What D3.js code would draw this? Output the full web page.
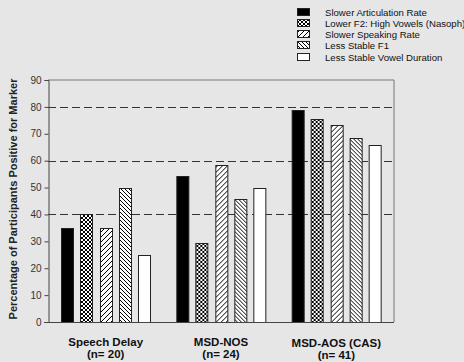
<!doctype html>
<html lang="en">
<head>
  <style>
    body { margin: 0; background: #e6e6e6; }
    svg { display: block; }
    .tick-label { font: 10px Arial, "Liberation Sans", sans-serif; fill: #333; }
    .legend-label { font: 9.6px Arial, "Liberation Sans", sans-serif; fill: #111; }
    .cat-label { font: bold 11.5px Arial, "Liberation Sans", sans-serif; fill: #111; }
    .axis-title { font: bold 11px Arial, "Liberation Sans", sans-serif; fill: #222; }
  </style>
  <script src="https://d3js.org/d3.v7.min.js"></script>
</head>
<body>
  <script>
    const categories = ["Speech Delay", "MSD-NOS", "MSD-AOS (CAS)"];
    const sampleSizes = ["(n= 20)", "(n= 24)", "(n= 41)"];
    const seriesNames = [
      "Slower Articulation Rate",
      "Lower F2: High Vowels (Nasoph)",
      "Slower Speaking Rate",
      "Less Stable F1",
      "Less Stable Vowel Duration"
    ];
    // one array per series, values per category
    const articulation = [35, 54.2, 78.9];
    const lowerF2 = [40, 29.2, 75.6];
    const speakingRate = [35, 58.3, 73.2];
    const stableF1 = [50, 45.8, 68.3];
    const vowelDuration = [25, 50, 65.9];
    const yTicks = [0, 10, 20, 30, 40, 50, 60, 70, 80, 90];
    const gridValues = [40, 60, 80];

    const seriesValues = [articulation, lowerF2, speakingRate, stableF1, vowelDuration];
    const fills = ["#000", "url(#cross)", "url(#fwd)", "url(#back)", "#fff"];

    const W = 464, H = 362;
    const plot = { left: 48, right: 394, top: 80, bottom: 322 };

    const svg = d3.select("body").append("svg")
      .attr("width", W)
      .attr("height", H);

    svg.append("rect").attr("width", W).attr("height", H).attr("fill", "#e6e6e6");

    // hatch patterns
    const defs = svg.append("defs");
    function hatch(id, size, angles) {
      const p = defs.append("pattern")
        .attr("id", id)
        .attr("patternUnits", "userSpaceOnUse")
        .attr("width", size)
        .attr("height", size);
      p.append("rect").attr("width", size).attr("height", size).attr("fill", "#fff");
      angles.forEach(a => {
        if (a === "/") {
          p.append("path").attr("d", `M0,${size} L${size},0 M-1,1 L1,-1 M${size - 1},${size + 1} L${size + 1},${size - 1}`)
            .attr("stroke", "#000").attr("stroke-width", 1);
        } else {
          p.append("path").attr("d", `M0,0 L${size},${size} M-1,${size - 1} L1,${size + 1} M${size - 1},-1 L${size + 1},1`)
            .attr("stroke", "#000").attr("stroke-width", 1);
        }
      });
    }
    hatch("cross", 4, ["/", "\\"]);
    hatch("fwd", 5, ["/"]);
    hatch("back", 4, ["\\"]);

    const x0 = d3.scaleBand()
      .domain(categories)
      .range([plot.left, plot.right]);

    const x1 = d3.scaleBand()
      .domain(seriesNames)
      .range([13, x0.bandwidth() - 13])
      .paddingInner(0.37);

    const y = d3.scaleLinear()
      .domain([0, 90])
      .range([plot.bottom, plot.top]);

    // frame top and right
    svg.append("path")
      .attr("d", `M${plot.left},${plot.top}H${plot.right}V${plot.bottom}`)
      .attr("fill", "none")
      .attr("stroke", "#777")
      .attr("stroke-width", 1);

    // dashed reference lines
    svg.append("g").selectAll("line")
      .data(gridValues)
      .join("line")
      .attr("x1", plot.left)
      .attr("x2", plot.right)
      .attr("y1", d => Math.round(y(d)) + 0.5)
      .attr("y2", d => Math.round(y(d)) + 0.5)
      .attr("stroke", "#333")
      .attr("stroke-width", 1)
      .attr("stroke-dasharray", "8,4");

    // bars
    categories.forEach((cat, ci) => {
      const g = svg.append("g").attr("transform", `translate(${x0(cat)},0)`);
      g.selectAll("rect")
        .data(seriesNames.map((s, si) => ({ s, si, v: seriesValues[si][ci] })))
        .join("rect")
        .attr("x", d => Math.round(x1(d.s)) + 0.5)
        .attr("y", d => Math.round(y(d.v)) + 0.5)
        .attr("width", Math.round(x1.bandwidth()))
        .attr("height", d => plot.bottom - Math.round(y(d.v)))
        .attr("fill", d => fills[d.si])
        .attr("stroke", "#222")
        .attr("stroke-width", 1);
    });

    // y axis
    const yAxis = svg.append("g")
      .attr("transform", `translate(${plot.left + 0.5},0)`)
      .call(d3.axisLeft(y).tickValues(yTicks).tickSize(4).tickPadding(3));
    yAxis.select(".domain").attr("stroke", "#444");
    yAxis.selectAll(".tick line").attr("stroke", "#444");
    yAxis.selectAll(".tick text").attr("class", "tick-label").attr("font-family", null).attr("font-size", null);

    // x axis line
    svg.append("line")
      .attr("x1", plot.left - 4)
      .attr("x2", plot.right)
      .attr("y1", plot.bottom + 0.5)
      .attr("y2", plot.bottom + 0.5)
      .attr("stroke", "#444");

    // category labels
    const labels = svg.append("g");
    categories.forEach((cat, i) => {
      const cx = x0(cat) + x0.bandwidth() / 2;
      const dy = i === 2 ? 1.5 : 0;
      labels.append("text")
        .attr("class", "cat-label")
        .attr("x", cx).attr("y", 345.5 + dy)
        .attr("text-anchor", "middle")
        .text(cat);
      labels.append("text")
        .attr("class", "cat-label")
        .attr("x", cx).attr("y", 357.5 + dy)
        .attr("text-anchor", "middle")
        .text(sampleSizes[i]);
    });

    // y axis title
    svg.append("text")
      .attr("class", "axis-title")
      .attr("text-anchor", "middle")
      .attr("transform", "translate(17,199) rotate(-90)")
      .text("Percentage of Participants Positive for Marker");

    // legend
    const legendY = [12, 23, 34, 45, 57];
    const legend = svg.append("g");
    seriesNames.forEach((name, i) => {
      legend.append("rect")
        .attr("x", 297.5).attr("y", legendY[i] - 3.5)
        .attr("width", 12).attr("height", 7)
        .attr("fill", fills[i])
        .attr("stroke", "#222");
      legend.append("text")
        .attr("class", "legend-label")
        .attr("x", 325).attr("y", legendY[i] + 3.5)
        .text(name);
    });
  </script>
</body>
</html>
